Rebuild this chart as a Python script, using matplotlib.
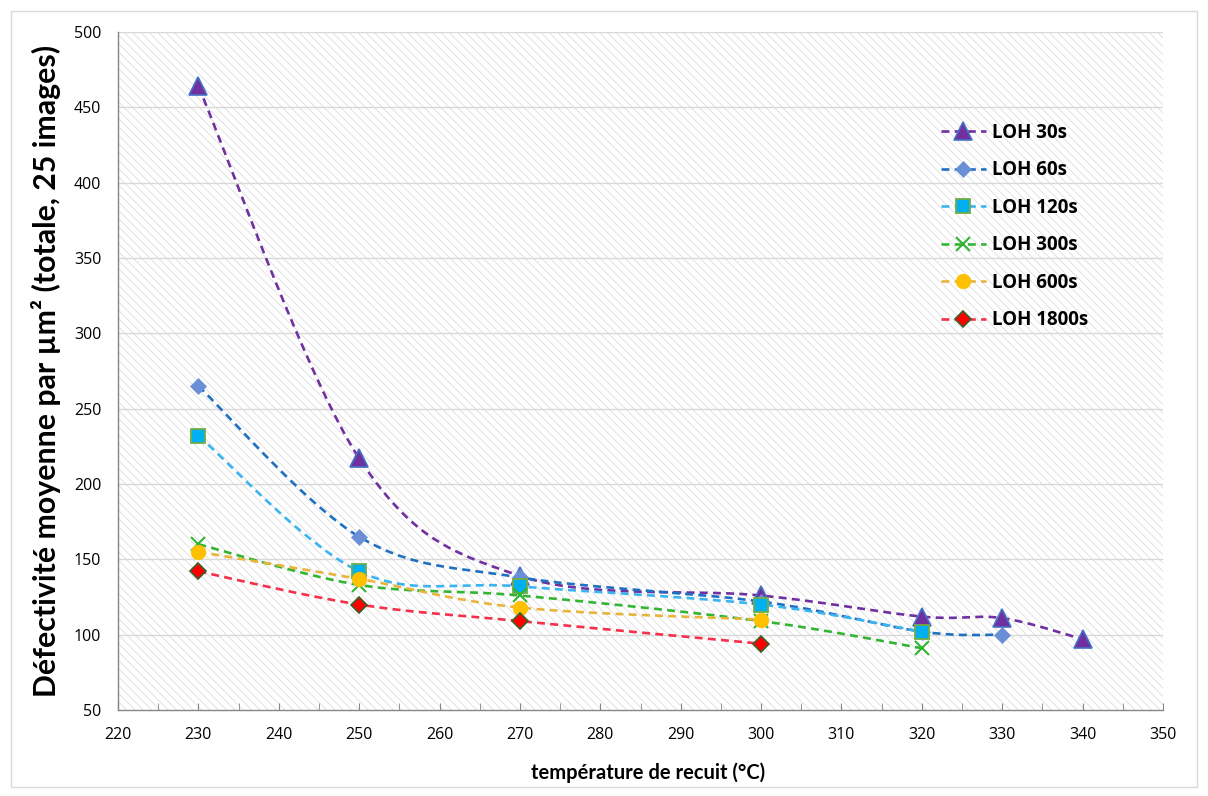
import numpy as np
import matplotlib

matplotlib.use("Agg")
import matplotlib.pyplot as plt
from matplotlib.lines import Line2D
from matplotlib.patches import Rectangle

# data
temp_30 = [230, 250, 270, 300, 320, 330, 340]
loh_30 = [464, 217, 139, 126, 112, 111, 97]
temp_60 = [230, 250, 270, 300, 320, 330]
loh_60 = [265, 165, 138, 122, 102, 100]
temp_120 = [230, 250, 270, 300, 320]
loh_120 = [232, 142, 132, 120, 102]
temp_300 = [230, 250, 270, 300, 320]
loh_300 = [160, 133, 126, 109, 91]
temp_600 = [230, 250, 270, 300]
loh_600 = [155, 137, 118, 110]
temp_1800 = [230, 250, 270, 300]
loh_1800 = [142, 120, 109, 94]

labels = ["LOH 30s", "LOH 60s", "LOH 120s", "LOH 300s", "LOH 600s", "LOH 1800s"]

FONT = ["Lato", "DejaVu Sans"]
SANS = ["Open Sans", "DejaVu Sans"]
plt.rcParams["font.family"] = FONT
plt.rcParams["hatch.linewidth"] = 0.5


def smooth(xs, ys, n=40):
    # Excel-style smoothed line (Catmull-Rom as cubic Bezier)
    p = np.column_stack([xs, ys]).astype(float)
    out = [p[0]]
    for i in range(len(p) - 1):
        p0 = p[i - 1] if i > 0 else p[i]
        p1, p2 = p[i], p[i + 1]
        p3 = p[i + 2] if i + 2 < len(p) else p[i + 1]
        c1 = p1 + (p2 - p0) / 6
        c2 = p2 - (p3 - p1) / 6
        t = np.linspace(0, 1, n)[1:, None]
        seg = ((1 - t) ** 3) * p1 + 3 * ((1 - t) ** 2) * t * c1 + 3 * (1 - t) * t ** 2 * c2 + t ** 3 * p2
        out.extend(seg)
    out = np.array(out)
    return out[:, 0], out[:, 1]


series = [
    (temp_30, loh_30, dict(color="#7030A0", marker="^", ms=13, mfc="#7030A0", mec="#4472C4", mew=1.2)),
    (temp_60, loh_60, dict(color="#1F70C1", marker="D", ms=8, mfc="#6A8FD6", mec="#6A8FD6", mew=0.5)),
    (temp_120, loh_120, dict(color="#3BB4F0", marker="s", ms=9.5, mfc="#00B0F0", mec="#70AD47", mew=1.3)),
    (temp_300, loh_300, dict(color="#33B533", marker="x", ms=10, mfc="#33B533", mec="#33B533", mew=1.5)),
    (temp_600, loh_600, dict(color="#E8B43C", marker="o", ms=10.5, mfc="#FFC000", mec="#FFC000", mew=0.5)),
    (temp_1800, loh_1800, dict(color="#F5304A", marker="D", ms=8, mfc="#FF0000", mec="#3B5E2B", mew=1.2)),
]

fig = plt.figure(figsize=(12.08, 7.96), dpi=100)
fig.patches.append(Rectangle((11 / 1208, 9 / 796), 1186 / 1208, 776 / 796,
                             transform=fig.transFigure, fill=False,
                             edgecolor="#d9d9d9", linewidth=1))
ax = fig.add_axes([118 / 1208, 1 - 710 / 796, 1045 / 1208, 678 / 796])

ax.patch.set_facecolor("white")
ax.patch.set_edgecolor("#d6d6d6")
ax.patch.set_hatch("\\\\\\\\")
ax.patch.set_linewidth(0)

for y in range(100, 501, 50):
    ax.axhline(y, color="#d9d9d9", linewidth=1, zorder=1)

handles = []
for (xs, ys, st), lab in zip(series, labels):
    sx, sy = smooth(xs, ys)
    ax.plot(sx, sy, color=st["color"], linewidth=1.9, dashes=(3, 2), zorder=2)
    ax.plot(xs, ys, linestyle="none", marker=st["marker"], markersize=st["ms"],
            markerfacecolor=st["mfc"], markeredgecolor=st["mec"],
            markeredgewidth=st["mew"], zorder=3)
    handles.append(Line2D([], [], color=st["color"], linewidth=1.9, dashes=(3, 2),
                          marker=st["marker"], markersize=st["ms"],
                          markerfacecolor=st["mfc"], markeredgecolor=st["mec"],
                          markeredgewidth=st["mew"]))

ax.set_xlim(220, 350)
ax.set_ylim(50, 500)
ax.set_xticks(range(220, 351, 10))
ax.set_xticks(range(225, 350, 10), minor=True)
ax.set_yticks(range(50, 501, 50))
ax.tick_params(axis="x", which="both", direction="in", length=5, color="#868686",
               labelsize=11.5, pad=12)
ax.tick_params(axis="y", length=0, labelsize=11.5, pad=12)
for lab in ax.get_xticklabels() + ax.get_yticklabels():
    lab.set_family(SANS)

for s in ["top", "right"]:
    ax.spines[s].set_visible(False)
for s in ["left", "bottom"]:
    ax.spines[s].set_color("#868686")
    ax.spines[s].set_linewidth(1)

ax.set_xlabel("température de recuit (°C)", fontsize=14.5, fontweight="bold")
ax.xaxis.set_label_coords(0.507, -0.077)
ax.set_ylabel("Défectivité moyenne par µm² (totale, 25 images)", fontsize=21.8,
              fontweight="bold")
ax.yaxis.set_label_coords(-0.055, 0.5)

leg = fig.legend(handles, labels, loc="upper left", bbox_to_anchor=(924 / 1208, 1 - 106 / 796),
                 frameon=False, prop=dict(family=SANS, weight="bold", size=13.5),
                 handlelength=2.4, labelspacing=0.93, handletextpad=0.3)

fig.savefig("out.png", dpi=100)
